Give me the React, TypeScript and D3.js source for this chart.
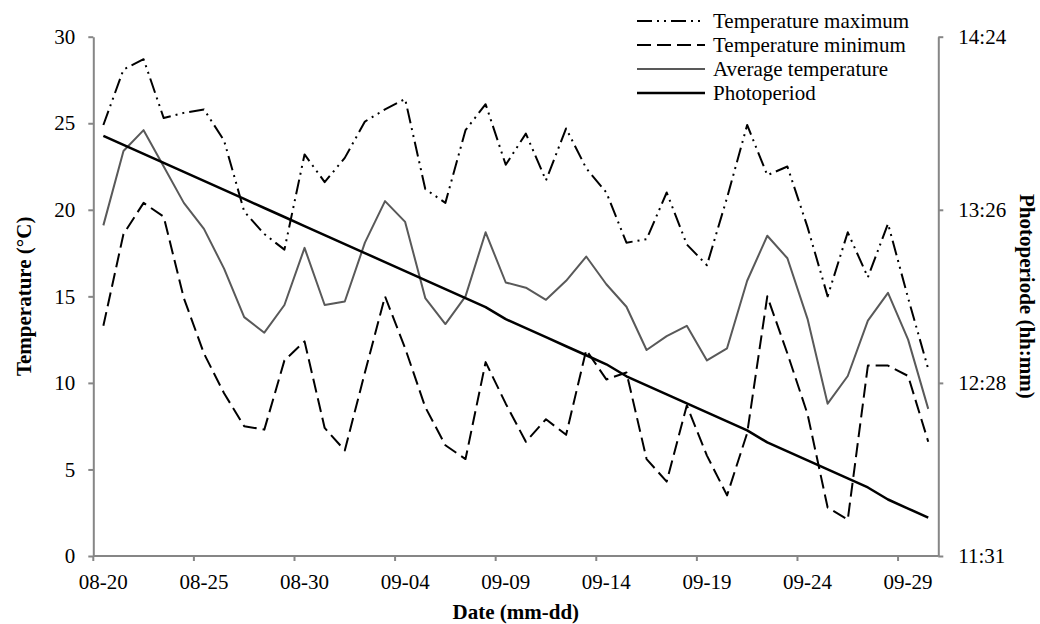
import { useEffect, useRef } from "react";
import * as d3 from "d3";

const dates = [
  "08-20", "08-21", "08-22", "08-23", "08-24", "08-25", "08-26", "08-27", "08-28", "08-29", "08-30", "08-31",
  "09-01", "09-02", "09-03", "09-04", "09-05", "09-06", "09-07", "09-08", "09-09", "09-10", "09-11", "09-12",
  "09-13", "09-14", "09-15", "09-16", "09-17", "09-18", "09-19", "09-20", "09-21", "09-22", "09-23", "09-24",
  "09-25", "09-26", "09-27", "09-28", "09-29", "09-30",
];
const xTickDates = ["08-20", "08-25", "08-30", "09-04", "09-09", "09-14", "09-19", "09-24", "09-29"];

const tempMax = [
  24.9, 28.1, 28.7, 25.3, 25.6, 25.8, 24.0, 19.9, 18.6, 17.7, 23.2, 21.6, 23.0, 25.1, 25.8, 26.4, 21.2, 20.4, 24.6, 26.1, 22.6,
  24.4, 21.7, 24.7, 22.4, 21.0, 18.1, 18.3, 21.0, 18.0, 16.8, 20.7, 24.9, 22.0, 22.5, 19.0, 15.0, 18.7, 16.1, 19.2, 14.9, 10.8,
];
const tempMin = [
  13.3, 18.6, 20.4, 19.6, 14.9, 11.7, 9.4, 7.5, 7.3, 11.3, 12.4, 7.4, 6.1, 10.6, 15.0, 12.0, 8.6, 6.4, 5.6, 11.2, 8.8,
  6.6, 7.9, 7.0, 11.9, 10.2, 10.6, 5.6, 4.3, 8.7, 5.8, 3.5, 7.1, 15.0, 11.7, 8.2, 2.8, 2.1, 11.0, 11.0, 10.4, 6.6,
];
const tempAvg = [
  19.1, 23.4, 24.6, 22.5, 20.4, 18.9, 16.6, 13.8, 12.9, 14.5, 17.8, 14.5, 14.7, 18.1, 20.5, 19.3, 14.9, 13.4, 15.0, 18.7, 15.8,
  15.5, 14.8, 15.9, 17.3, 15.7, 14.4, 11.9, 12.7, 13.3, 11.3, 12.0, 15.9, 18.5, 17.2, 13.7, 8.8, 10.4, 13.6, 15.2, 12.5, 8.5,
];
const photoperiod = [
  "13:51", "13:48", "13:45", "13:42", "13:39", "13:36", "13:33", "13:30", "13:27", "13:24", "13:21", "13:18",
  "13:15", "13:12", "13:09", "13:06", "13:03", "13:00", "12:57", "12:54", "12:50", "12:47", "12:44", "12:41",
  "12:38", "12:35", "12:31", "12:28", "12:25", "12:22", "12:19", "12:16", "12:13", "12:09", "12:06", "12:03",
  "12:00", "11:57", "11:54", "11:50", "11:47", "11:44",
];
const tempTicks = [0, 5, 10, 15, 20, 25, 30];
// photoperiod axis in fraction of a day (Excel time)
const photoTicks = [0.48, 0.52, 0.56, 0.6];

const legendNames = ["Temperature maximum", "Temperature minimum", "Average temperature", "Photoperiod"];

const FONT = "'Liberation Serif', 'Times New Roman', serif";
const AXIS = "#868686";

const toDay = (s: string) => {
  const [h, m] = s.split(":").map(Number);
  return (h * 60 + m) / 1440;
};
const fmtDay = (d: number) => {
  const mins = Math.floor(d * 1440 + 1e-6);
  return Math.floor(mins / 60) + ":" + String(mins % 60).padStart(2, "0");
};

const App = () => {
  const svgRef = useRef<SVGSVGElement>(null);

  useEffect(() => {
    const width = 1040;
    const height = 624;
    const left = 93.3, right = 938.3, top = 36.7, bottom = 556;

    const svg = d3.select(svgRef.current);
    svg.selectAll("*").remove();

    const x = d3.scaleBand().domain(dates).range([left, right]).padding(0);
    const bw = x.bandwidth();
    const xc = (d: string) => (x(d) as number) + bw / 2;
    const yT = d3.scaleLinear().domain([0, 30]).range([bottom, top]);
    const yP = d3.scaleLinear().domain([0.48, 0.6]).range([bottom, top]);

    // x axis
    const gx = svg.append("g");
    gx.append("line").attr("x1", left).attr("x2", right).attr("y1", bottom).attr("y2", bottom)
      .attr("stroke", AXIS).attr("stroke-width", 2);
    gx.selectAll(".tk").data(xTickDates).join("line")
      .attr("x1", d => x(d) as number).attr("x2", d => x(d) as number)
      .attr("y1", bottom).attr("y2", bottom + 5)
      .attr("stroke", AXIS).attr("stroke-width", 2);
    gx.selectAll(".lb").data(xTickDates).join("text")
      .attr("x", d => xc(d)).attr("y", 589)
      .attr("text-anchor", "middle")
      .attr("font-family", FONT).attr("font-size", 21).attr("fill", "#000")
      .text(d => d);

    // left axis
    const gl = svg.append("g").attr("transform", `translate(${left},0)`)
      .call(d3.axisLeft(yT).tickValues(tempTicks).tickSize(5).tickSizeOuter(0).tickPadding(13));
    gl.select(".domain").attr("stroke", AXIS).attr("stroke-width", 2);
    gl.selectAll(".tick line").attr("stroke", AXIS).attr("stroke-width", 2);
    gl.selectAll(".tick text").attr("font-family", FONT).attr("font-size", 21).attr("fill", "#000");

    // right axis
    const gr = svg.append("g").attr("transform", `translate(${right},0)`)
      .call(d3.axisRight(yP).tickValues(photoTicks).tickFormat(d => fmtDay(+d)).tickSize(5).tickSizeOuter(0).tickPadding(15));
    gr.select(".domain").attr("stroke", AXIS).attr("stroke-width", 2);
    gr.selectAll(".tick line").attr("stroke", AXIS).attr("stroke-width", 2);
    gr.selectAll(".tick text").attr("font-family", FONT).attr("font-size", 21).attr("fill", "#000");

    // axis titles
    svg.append("text").attr("x", (left + right) / 2).attr("y", 619)
      .attr("text-anchor", "middle").attr("font-family", FONT).attr("font-size", 21).attr("font-weight", "bold")
      .text("Date (mm-dd)");
    svg.append("text").attr("transform", `translate(24,${(top + bottom) / 2}) rotate(-90)`)
      .attr("text-anchor", "middle").attr("dominant-baseline", "central")
      .attr("font-family", FONT).attr("font-size", 21).attr("font-weight", "bold")
      .text("Temperature (°C)");
    svg.append("text").attr("transform", `translate(1027,${(top + bottom) / 2}) rotate(90)`)
      .attr("text-anchor", "middle").attr("dominant-baseline", "central")
      .attr("font-family", FONT).attr("font-size", 21).attr("font-weight", "bold")
      .text("Photoperiode (hh:mm)");

    const styles = [
      { stroke: "#000", width: 2, dash: "15,5,2,5,2,5" },
      { stroke: "#000", width: 2, dash: "14,6" },
      { stroke: "#595959", width: 2, dash: null },
      { stroke: "#000", width: 2.5, dash: null },
    ];

    const tempLine = d3.line<number>().x((_, i) => xc(dates[i])).y(v => yT(v));
    const photoLine = d3.line<string>().x((_, i) => xc(dates[i])).y(v => yP(toDay(v)));

    const series = [
      tempLine(tempMax),
      tempLine(tempMin),
      tempLine(tempAvg),
      photoLine(photoperiod),
    ];
    series.forEach((d, i) => {
      svg.append("path").attr("d", d as string).attr("fill", "none")
        .attr("stroke", styles[i].stroke).attr("stroke-width", styles[i].width)
        .attr("stroke-dasharray", styles[i].dash)
        .attr("stroke-linejoin", "round");
    });

    // legend
    const lg = svg.append("g");
    legendNames.forEach((name, i) => {
      const ly = 21 + i * 24;
      lg.append("line").attr("x1", 637).attr("x2", 705).attr("y1", ly).attr("y2", ly)
        .attr("stroke", styles[i].stroke).attr("stroke-width", styles[i].width)
        .attr("stroke-dasharray", styles[i].dash);
      lg.append("text").attr("x", 713).attr("y", ly).attr("dominant-baseline", "central")
        .attr("font-family", FONT).attr("font-size", 21).attr("fill", "#000")
        .text(name);
    });

    svg.attr("width", width).attr("height", height);
  }, []);

  return (
    <div style={{ position: "absolute", left: 0, top: 0 }}>
      <svg ref={svgRef} width={1040} height={624} style={{ display: "block", background: "#fff" }} />
    </div>
  );
};

export default App;
